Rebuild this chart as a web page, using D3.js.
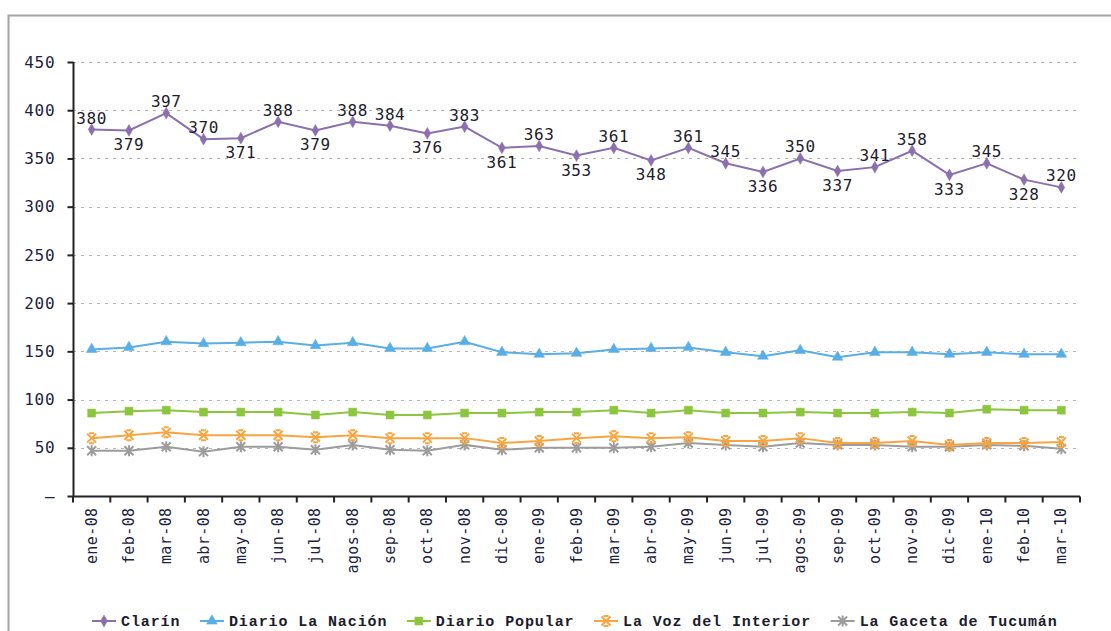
<!DOCTYPE html>
<html>
<head>
<meta charset="utf-8">
<script src="https://cdn.jsdelivr.net/npm/d3@7"></script>
<style>
  body { margin: 0; background: #fff; }
  text { font-family: "DejaVu Sans Mono", monospace; }
</style>
</head>
<body>
<div id="app"></div>
<script>
// month categories
const months = ["ene-08","feb-08","mar-08","abr-08","may-08","jun-08","jul-08","agos-08","sep-08","oct-08","nov-08","dic-08",
  "ene-09","feb-09","mar-09","abr-09","may-09","jun-09","jul-09","agos-09","sep-09","oct-09","nov-09","dic-09",
  "ene-10","feb-10","mar-10"];

// series values
const clarin = [380,379,397,370,371,388,379,388,384,376,383,361,363,353,361,348,361,345,336,350,337,341,358,333,345,328,320];
const laNacion = [152,154,160,158,159,160,156,159,153,153,160,149,147,148,152,153,154,149,145,151,144,149,149,147,149,147,147];
const popular = [86,88,89,87,87,87,84,87,84,84,86,86,87,87,89,86,89,86,86,87,86,86,87,86,90,89,89];
const laVoz = [60,63,66,63,63,63,61,63,60,60,60,55,57,60,62,60,61,57,57,60,55,55,57,53,55,55,56];
const gaceta = [47,47,51,46,51,51,48,53,48,47,53,48,50,50,50,51,55,53,51,55,53,53,51,51,53,52,49];

// label above (1) or below (0) the Clarín point
const clarinLabelUp = [1,0,1,1,0,1,0,1,1,0,1,0,1,0,1,0,1,1,0,1,0,1,1,0,1,0,1];

const yTicks = [0,50,100,150,200,250,300,350,400,450];

const seriesNames = ["Clarín","Diario La Nación","Diario Popular","La Voz del Interior","La Gaceta de Tucumán"];
const seriesValues = [clarin, laNacion, popular, laVoz, gaceta];
const seriesColors = ["#8a70ad","#5aaee6","#8cc63f","#f7a541","#9c9c9c"];
const seriesMarkers = ["diamond","triangle","square","x","star"];

const W = 1111, H = 631;
const svg = d3.select("#app").append("svg").attr("width", W).attr("height", H);

// outer frame
svg.append("rect").attr("x", 8.5).attr("y", 15.5).attr("width", 1200).attr("height", 700)
  .attr("fill", "none").attr("stroke", "#a3a3a3").attr("stroke-width", 2);

const x = d3.scaleBand().domain(months).range([73, 1080]).padding(0);
const y = d3.scaleLinear().domain([0, 450]).range([496, 62]);

// grid
svg.append("g").selectAll("line").data(yTicks.filter(d => d > 0)).enter().append("line")
  .attr("x1", 73).attr("x2", 1080)
  .attr("y1", d => Math.round(y(d)) + 0.5).attr("y2", d => Math.round(y(d)) + 0.5)
  .attr("stroke", "#b5b5b5").attr("stroke-dasharray", "3,5");

// y axis
const yAxis = svg.append("g").attr("transform", "translate(73.5,0)")
  .call(d3.axisLeft(y).tickValues(yTicks).tickSize(6).tickPadding(12)
    .tickFormat(d => d === 0 ? "–" : d));
yAxis.select(".domain").attr("stroke", "#222").attr("stroke-width", 2).attr("d", "M0,62V496");
yAxis.selectAll(".tick line").attr("stroke", "#222").attr("stroke-width", 2);
yAxis.selectAll(".tick text").attr("fill", "#1c2340").style("font-size", "16px")
  .style("letter-spacing", "0.8px").style("font-family", "DejaVu Sans Mono");

// x axis
const xAxis = svg.append("g").attr("transform", "translate(0,496.5)")
  .call(d3.axisBottom(x).tickSize(0).tickFormat(""));
xAxis.select(".domain").attr("stroke", "#222").attr("stroke-width", 2).attr("d", "M73,0H1080");
xAxis.selectAll(".tick").remove();
xAxis.selectAll(".bt").data(d3.range(months.length + 1)).enter().append("line")
  .attr("x1", i => 73 + i * x.bandwidth()).attr("x2", i => 73 + i * x.bandwidth())
  .attr("y1", 0).attr("y2", 6).attr("stroke", "#222").attr("stroke-width", 2);
xAxis.selectAll(".lbl").data(months).enter().append("text")
  .attr("transform", d => `translate(${x(d) + x.bandwidth() / 2 + 5},11) rotate(-90)`)
  .attr("text-anchor", "end").attr("fill", "#1c2340")
  .style("font-size", "15px").style("letter-spacing", "0.4px").text(d => d);

// marker drawing
const markerPath = (type) => {
  if (type === "diamond") return d3.symbol(d3.symbolDiamond, 40)();
  if (type === "triangle") return d3.symbol(d3.symbolTriangle, 50)();
  if (type === "square") return d3.symbol(d3.symbolSquare, 64)();
  if (type === "x") return "M-4.5,-4.5L4.5,4.5M-4.5,4.5L4.5,-4.5M-2.5,-5H2.5M-2.5,5H2.5";
  return "M-4.5,-4.5L4.5,4.5M-4.5,4.5L4.5,-4.5M0,-5.5V5.5";
};
const drawMarker = (g, type, color, cx, cy) => {
  const stroke = type === "x" || type === "star";
  g.append("path").attr("d", markerPath(type))
    .attr("transform", `translate(${cx},${cy})`)
    .attr("fill", stroke ? "none" : color)
    .attr("stroke", color).attr("stroke-width", stroke ? 2 : 0.5);
};

const cx = (i) => x(months[i]) + x.bandwidth() / 2;
const line = d3.line().x((d, i) => cx(i)).y(d => y(d));

// draw series (last first so Clarín on top)
for (let s = seriesValues.length - 1; s >= 0; s--) {
  const g = svg.append("g");
  g.append("path").datum(seriesValues[s]).attr("d", line)
    .attr("fill", "none").attr("stroke", seriesColors[s]).attr("stroke-width", 2);
  seriesValues[s].forEach((v, i) => drawMarker(g, seriesMarkers[s], seriesColors[s], cx(i), y(v)));
}

// Clarín data labels
svg.append("g").selectAll("text").data(clarin).enter().append("text")
  .attr("x", (d, i) => cx(i))
  .attr("y", (d, i) => clarinLabelUp[i] ? y(d) - 6 : y(d) + 20)
  .attr("text-anchor", "middle").attr("fill", "#1c1c2c")
  .style("font-size", "16px").style("letter-spacing", "0.6px").text(d => d);

// legend
const legend = svg.append("g").attr("transform", "translate(0,621)");
let lx = 92;
seriesNames.forEach((name, s) => {
  const item = legend.append("g");
  item.append("line").attr("x1", lx).attr("x2", lx + 24).attr("y1", 0).attr("y2", 0)
    .attr("stroke", seriesColors[s]).attr("stroke-width", 2);
  drawMarker(item, seriesMarkers[s], seriesColors[s], lx + 12, 0);
  const t = item.append("text").attr("x", lx + 29).attr("y", 5).attr("fill", "#1c1c2c")
    .style("font-size", "15px").style("letter-spacing", "0.9px")
    .style("font-family", "Liberation Mono").style("font-weight", "bold").text(name);
  lx += 29 + t.node().getComputedTextLength() + 19.5;
});
</script>
</body>
</html>
